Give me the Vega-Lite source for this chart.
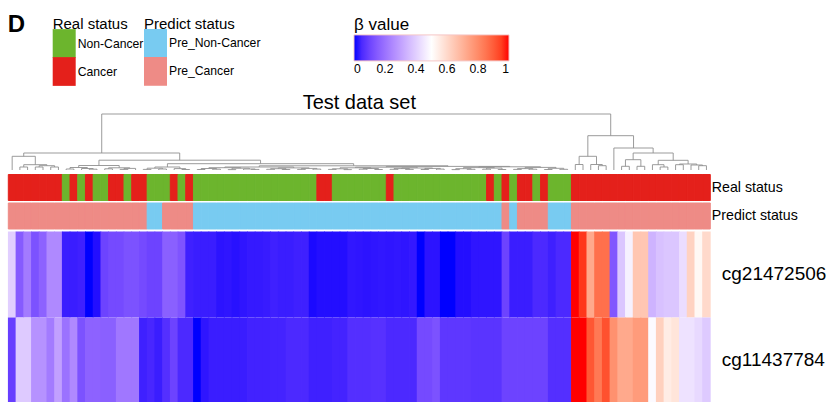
{
  "$schema": "https://vega.github.io/schema/vega-lite/v6.json",
  "padding": {"left": 7.3, "top": 12, "right": 0, "bottom": 0},
  "title": {"text": "D", "anchor": "start", "fontSize": 24, "fontWeight": "bold", "font": "Liberation Sans", "color": "#000", "offset": -20},
  "bounds": "flush",
  "spacing": 2.5,
  "config": {"view": {"stroke": null}, "font": "Liberation Sans", "axis": {"labelColor": "#000"}, "legend": {"labelColor": "#000", "titleColor": "#000"}},
  "resolve": {"scale": {"color": "independent", "stroke": "independent", "x": "independent", "y": "independent"}, "legend": {"color": "independent"}},
  "datasets": {
    "cols": [
      {"c":0,"r":"Cancer","p":"Pre_Cancer","cg21472506":0.40,"cg11437784":0.09},
      {"c":1,"r":"Cancer","p":"Pre_Cancer","cg21472506":0.15,"cg11437784":0.39},
      {"c":2,"r":"Cancer","p":"Pre_Cancer","cg21472506":0.22,"cg11437784":0.39},
      {"c":3,"r":"Cancer","p":"Pre_Cancer","cg21472506":0.13,"cg11437784":0.27},
      {"c":4,"r":"Cancer","p":"Pre_Cancer","cg21472506":0.165,"cg11437784":0.27},
      {"c":5,"r":"Cancer","p":"Pre_Cancer","cg21472506":0.25,"cg11437784":0.22},
      {"c":6,"r":"Cancer","p":"Pre_Cancer","cg21472506":0.25,"cg11437784":0.30},
      {"c":7,"r":"Non-Cancer","p":"Pre_Cancer","cg21472506":0.03,"cg11437784":0.20},
      {"c":8,"r":"Cancer","p":"Pre_Cancer","cg21472506":0.03,"cg11437784":0.25},
      {"c":9,"r":"Non-Cancer","p":"Pre_Cancer","cg21472506":0.035,"cg11437784":0.13},
      {"c":10,"r":"Cancer","p":"Pre_Cancer","cg21472506":0.0,"cg11437784":0.165},
      {"c":11,"r":"Non-Cancer","p":"Pre_Cancer","cg21472506":0.012,"cg11437784":0.165},
      {"c":12,"r":"Non-Cancer","p":"Pre_Cancer","cg21472506":0.10,"cg11437784":0.16},
      {"c":13,"r":"Cancer","p":"Pre_Cancer","cg21472506":0.115,"cg11437784":0.16},
      {"c":14,"r":"Cancer","p":"Pre_Cancer","cg21472506":0.115,"cg11437784":0.21},
      {"c":15,"r":"Non-Cancer","p":"Pre_Cancer","cg21472506":0.13,"cg11437784":0.21},
      {"c":16,"r":"Cancer","p":"Pre_Cancer","cg21472506":0.13,"cg11437784":0.21},
      {"c":17,"r":"Cancer","p":"Pre_Cancer","cg21472506":0.115,"cg11437784":0.035},
      {"c":18,"r":"Non-Cancer","p":"Pre_Non-Cancer","cg21472506":0.10,"cg11437784":0.045},
      {"c":19,"r":"Non-Cancer","p":"Pre_Non-Cancer","cg21472506":0.10,"cg11437784":0.03},
      {"c":20,"r":"Non-Cancer","p":"Pre_Cancer","cg21472506":0.16,"cg11437784":0.06},
      {"c":21,"r":"Cancer","p":"Pre_Cancer","cg21472506":0.16,"cg11437784":0.10},
      {"c":22,"r":"Non-Cancer","p":"Pre_Cancer","cg21472506":0.135,"cg11437784":0.05},
      {"c":23,"r":"Cancer","p":"Pre_Cancer","cg21472506":0.035,"cg11437784":0.05},
      {"c":24,"r":"Non-Cancer","p":"Pre_Non-Cancer","cg21472506":0.03,"cg11437784":0.0},
      {"c":25,"r":"Non-Cancer","p":"Pre_Non-Cancer","cg21472506":0.03,"cg11437784":0.02},
      {"c":26,"r":"Non-Cancer","p":"Pre_Non-Cancer","cg21472506":0.03,"cg11437784":0.03},
      {"c":27,"r":"Non-Cancer","p":"Pre_Non-Cancer","cg21472506":0.018,"cg11437784":0.03},
      {"c":28,"r":"Non-Cancer","p":"Pre_Non-Cancer","cg21472506":0.02,"cg11437784":0.03},
      {"c":29,"r":"Non-Cancer","p":"Pre_Non-Cancer","cg21472506":0.015,"cg11437784":0.03},
      {"c":30,"r":"Non-Cancer","p":"Pre_Non-Cancer","cg21472506":0.02,"cg11437784":0.03},
      {"c":31,"r":"Non-Cancer","p":"Pre_Non-Cancer","cg21472506":0.025,"cg11437784":0.038},
      {"c":32,"r":"Non-Cancer","p":"Pre_Non-Cancer","cg21472506":0.025,"cg11437784":0.038},
      {"c":33,"r":"Non-Cancer","p":"Pre_Non-Cancer","cg21472506":0.028,"cg11437784":0.038},
      {"c":34,"r":"Non-Cancer","p":"Pre_Non-Cancer","cg21472506":0.035,"cg11437784":0.04},
      {"c":35,"r":"Non-Cancer","p":"Pre_Non-Cancer","cg21472506":0.03,"cg11437784":0.04},
      {"c":36,"r":"Non-Cancer","p":"Pre_Non-Cancer","cg21472506":0.03,"cg11437784":0.05},
      {"c":37,"r":"Non-Cancer","p":"Pre_Non-Cancer","cg21472506":0.035,"cg11437784":0.05},
      {"c":38,"r":"Non-Cancer","p":"Pre_Non-Cancer","cg21472506":0.035,"cg11437784":0.05},
      {"c":39,"r":"Non-Cancer","p":"Pre_Non-Cancer","cg21472506":0.008,"cg11437784":0.035},
      {"c":40,"r":"Cancer","p":"Pre_Non-Cancer","cg21472506":0.012,"cg11437784":0.035},
      {"c":41,"r":"Cancer","p":"Pre_Non-Cancer","cg21472506":0.012,"cg11437784":0.035},
      {"c":42,"r":"Non-Cancer","p":"Pre_Non-Cancer","cg21472506":0.012,"cg11437784":0.04},
      {"c":43,"r":"Non-Cancer","p":"Pre_Non-Cancer","cg21472506":0.012,"cg11437784":0.04},
      {"c":44,"r":"Non-Cancer","p":"Pre_Non-Cancer","cg21472506":0.022,"cg11437784":0.06},
      {"c":45,"r":"Non-Cancer","p":"Pre_Non-Cancer","cg21472506":0.02,"cg11437784":0.06},
      {"c":46,"r":"Non-Cancer","p":"Pre_Non-Cancer","cg21472506":0.018,"cg11437784":0.06},
      {"c":47,"r":"Non-Cancer","p":"Pre_Non-Cancer","cg21472506":0.02,"cg11437784":0.065},
      {"c":48,"r":"Non-Cancer","p":"Pre_Non-Cancer","cg21472506":0.022,"cg11437784":0.065},
      {"c":49,"r":"Cancer","p":"Pre_Non-Cancer","cg21472506":0.02,"cg11437784":0.05},
      {"c":50,"r":"Non-Cancer","p":"Pre_Non-Cancer","cg21472506":0.022,"cg11437784":0.05},
      {"c":51,"r":"Non-Cancer","p":"Pre_Non-Cancer","cg21472506":0.02,"cg11437784":0.05},
      {"c":52,"r":"Non-Cancer","p":"Pre_Non-Cancer","cg21472506":0.024,"cg11437784":0.05},
      {"c":53,"r":"Non-Cancer","p":"Pre_Non-Cancer","cg21472506":0.0,"cg11437784":0.115},
      {"c":54,"r":"Non-Cancer","p":"Pre_Non-Cancer","cg21472506":0.018,"cg11437784":0.115},
      {"c":55,"r":"Non-Cancer","p":"Pre_Non-Cancer","cg21472506":0.018,"cg11437784":0.13},
      {"c":56,"r":"Non-Cancer","p":"Pre_Non-Cancer","cg21472506":0.0,"cg11437784":0.075},
      {"c":57,"r":"Non-Cancer","p":"Pre_Non-Cancer","cg21472506":0.0,"cg11437784":0.075},
      {"c":58,"r":"Non-Cancer","p":"Pre_Non-Cancer","cg21472506":0.012,"cg11437784":0.075},
      {"c":59,"r":"Non-Cancer","p":"Pre_Non-Cancer","cg21472506":0.012,"cg11437784":0.075},
      {"c":60,"r":"Non-Cancer","p":"Pre_Non-Cancer","cg21472506":0.02,"cg11437784":0.07},
      {"c":61,"r":"Non-Cancer","p":"Pre_Non-Cancer","cg21472506":0.02,"cg11437784":0.07},
      {"c":62,"r":"Cancer","p":"Pre_Non-Cancer","cg21472506":0.02,"cg11437784":0.07},
      {"c":63,"r":"Non-Cancer","p":"Pre_Non-Cancer","cg21472506":0.02,"cg11437784":0.07},
      {"c":64,"r":"Cancer","p":"Pre_Cancer","cg21472506":0.10,"cg11437784":0.10},
      {"c":65,"r":"Non-Cancer","p":"Pre_Non-Cancer","cg21472506":0.03,"cg11437784":0.10},
      {"c":66,"r":"Cancer","p":"Pre_Cancer","cg21472506":0.03,"cg11437784":0.10},
      {"c":67,"r":"Cancer","p":"Pre_Cancer","cg21472506":0.03,"cg11437784":0.10},
      {"c":68,"r":"Non-Cancer","p":"Pre_Cancer","cg21472506":0.05,"cg11437784":0.10},
      {"c":69,"r":"Cancer","p":"Pre_Cancer","cg21472506":0.05,"cg11437784":0.10},
      {"c":70,"r":"Non-Cancer","p":"Pre_Non-Cancer","cg21472506":0.035,"cg11437784":0.06},
      {"c":71,"r":"Non-Cancer","p":"Pre_Non-Cancer","cg21472506":0.05,"cg11437784":0.06},
      {"c":72,"r":"Non-Cancer","p":"Pre_Non-Cancer","cg21472506":0.05,"cg11437784":0.06},
      {"c":73,"r":"Cancer","p":"Pre_Cancer","cg21472506":1.0,"cg11437784":1.0},
      {"c":74,"r":"Cancer","p":"Pre_Cancer","cg21472506":0.96,"cg11437784":1.0},
      {"c":75,"r":"Cancer","p":"Pre_Cancer","cg21472506":0.725,"cg11437784":0.91},
      {"c":76,"r":"Cancer","p":"Pre_Cancer","cg21472506":0.86,"cg11437784":0.84},
      {"c":77,"r":"Cancer","p":"Pre_Cancer","cg21472506":0.86,"cg11437784":0.92},
      {"c":78,"r":"Cancer","p":"Pre_Cancer","cg21472506":0.14,"cg11437784":0.785},
      {"c":79,"r":"Cancer","p":"Pre_Cancer","cg21472506":0.38,"cg11437784":0.725},
      {"c":80,"r":"Cancer","p":"Pre_Cancer","cg21472506":0.47,"cg11437784":0.725},
      {"c":81,"r":"Cancer","p":"Pre_Cancer","cg21472506":0.65,"cg11437784":0.76},
      {"c":82,"r":"Cancer","p":"Pre_Cancer","cg21472506":0.65,"cg11437784":0.76},
      {"c":83,"r":"Cancer","p":"Pre_Cancer","cg21472506":0.34,"cg11437784":0.49},
      {"c":84,"r":"Cancer","p":"Pre_Cancer","cg21472506":0.37,"cg11437784":0.625},
      {"c":85,"r":"Cancer","p":"Pre_Cancer","cg21472506":0.38,"cg11437784":0.55},
      {"c":86,"r":"Cancer","p":"Pre_Cancer","cg21472506":0.38,"cg11437784":0.57},
      {"c":87,"r":"Cancer","p":"Pre_Cancer","cg21472506":0.43,"cg11437784":0.44},
      {"c":88,"r":"Cancer","p":"Pre_Cancer","cg21472506":0.62,"cg11437784":0.44},
      {"c":89,"r":"Cancer","p":"Pre_Cancer","cg21472506":0.52,"cg11437784":0.42},
      {"c":90,"r":"Cancer","p":"Pre_Cancer","cg21472506":0.6,"cg11437784":0.39}
    ],
    "tree": [
      {"xl":73.5,"xr":74.5,"h":7.5,"hl":2,"hr":2},
      {"xl":76.5,"xr":77.5,"h":6.3,"hl":2,"hr":2},
      {"xl":75.5,"xr":77.0,"h":7.5,"hl":2,"hr":6.3},
      {"xl":74.0,"xr":76.25,"h":15.7,"hl":7.5,"hr":7.5},
      {"xl":79.5,"xr":80.5,"h":5.7,"hl":2,"hr":2},
      {"xl":81.5,"xr":82.5,"h":5.7,"hl":2,"hr":2},
      {"xl":80.0,"xr":82.0,"h":12.3,"hl":5.7,"hr":5.7},
      {"xl":84.5,"xr":85.5,"h":5.0,"hl":2,"hr":2},
      {"xl":83.5,"xr":85.0,"h":7.3,"hl":2,"hr":5.0},
      {"xl":86.5,"xr":87.5,"h":7.3,"hl":2,"hr":2},
      {"xl":89.5,"xr":90.5,"h":6.3,"hl":2,"hr":2},
      {"xl":88.5,"xr":90.0,"h":7.0,"hl":2,"hr":6.3},
      {"xl":87.0,"xr":89.25,"h":8.0,"hl":7.3,"hr":7.0},
      {"xl":84.25,"xr":88.125,"h":11.7,"hl":7.3,"hr":8.0},
      {"xl":81.0,"xr":86.19,"h":19,"hl":12.3,"hr":11.7},
      {"xl":78.5,"xr":83.59,"h":24,"hl":2,"hr":19},
      {"xl":75.125,"xr":81.05,"h":36.3,"hl":15.7,"hr":24},
      {"xl":1.5,"xr":2.5,"h":5,"hl":2,"hr":2},
      {"xl":3.5,"xr":4.5,"h":5,"hl":2,"hr":2},
      {"xl":5.5,"xr":6.5,"h":5,"hl":2,"hr":2},
      {"xl":4.0,"xr":6.0,"h":6.3,"hl":5,"hr":5},
      {"xl":2.0,"xr":5.0,"h":7.3,"hl":5,"hr":6.3},
      {"xl":0.5,"xr":3.5,"h":15.7,"hl":2,"hr":7.3},
      {"xl":7.5,"xr":8.5,"h":3,"hl":2,"hr":2},
      {"xl":10.5,"xr":11.5,"h":2.8,"hl":2,"hr":2},
      {"xl":9.5,"xr":11.0,"h":3.5,"hl":2,"hr":2.8},
      {"xl":8.0,"xr":10.25,"h":4.5,"hl":3,"hr":3.5},
      {"xl":12.5,"xr":13.5,"h":3.2,"hl":2,"hr":2},
      {"xl":14.5,"xr":15.5,"h":2.6,"hl":2,"hr":2},
      {"xl":15.0,"xr":16.5,"h":3.6,"hl":2.6,"hr":2},
      {"xl":13.0,"xr":15.75,"h":4.2,"hl":3.2,"hr":3.6},
      {"xl":9.125,"xr":14.375,"h":6.5,"hl":4.5,"hr":4.2},
      {"xl":17.5,"xr":18.5,"h":2.6,"hl":2,"hr":2},
      {"xl":19.5,"xr":20.5,"h":3,"hl":2,"hr":2},
      {"xl":18.0,"xr":20.0,"h":3.8,"hl":2.6,"hr":3},
      {"xl":22.5,"xr":23.5,"h":2.5,"hl":2,"hr":2},
      {"xl":21.5,"xr":23.0,"h":3.4,"hl":2,"hr":2.5},
      {"xl":19.0,"xr":22.25,"h":5.0,"hl":3.8,"hr":3.4},
      {"xl":24.5,"xr":25.5,"h":2.5,"hl":2,"hr":2},
      {"xl":26.5,"xr":27.5,"h":2.8,"hl":2,"hr":2},
      {"xl":25.0,"xr":27.0,"h":3.5,"hl":2.5,"hr":2.8},
      {"xl":28.5,"xr":29.5,"h":2.4,"hl":2,"hr":2},
      {"xl":31.5,"xr":32.5,"h":2.6,"hl":2,"hr":2},
      {"xl":30.5,"xr":32.0,"h":3.0,"hl":2,"hr":2.6},
      {"xl":29.0,"xr":31.25,"h":3.8,"hl":2.4,"hr":3.0},
      {"xl":33.5,"xr":34.5,"h":2.7,"hl":2,"hr":2},
      {"xl":35.5,"xr":36.5,"h":2.5,"hl":2,"hr":2},
      {"xl":34.0,"xr":36.0,"h":3.3,"hl":2.7,"hr":2.5},
      {"xl":37.5,"xr":38.5,"h":2.6,"hl":2,"hr":2},
      {"xl":39.5,"xr":40.5,"h":2.9,"hl":2,"hr":2},
      {"xl":38.0,"xr":40.0,"h":3.6,"hl":2.6,"hr":2.9},
      {"xl":26.0,"xr":30.125,"h":4.3,"hl":3.5,"hr":3.8},
      {"xl":35.0,"xr":39.0,"h":4.1,"hl":3.3,"hr":3.6},
      {"xl":28.06,"xr":37.0,"h":5.0,"hl":4.3,"hr":4.1},
      {"xl":41.5,"xr":42.5,"h":2.6,"hl":2,"hr":2},
      {"xl":43.5,"xr":44.5,"h":2.4,"hl":2,"hr":2},
      {"xl":42.0,"xr":44.0,"h":3.2,"hl":2.6,"hr":2.4},
      {"xl":45.5,"xr":46.5,"h":2.8,"hl":2,"hr":2},
      {"xl":47.5,"xr":48.5,"h":2.5,"hl":2,"hr":2},
      {"xl":46.0,"xr":48.0,"h":3.5,"hl":2.8,"hr":2.5},
      {"xl":49.5,"xr":50.5,"h":2.7,"hl":2,"hr":2},
      {"xl":51.5,"xr":52.5,"h":2.6,"hl":2,"hr":2},
      {"xl":50.0,"xr":52.0,"h":3.4,"hl":2.7,"hr":2.6},
      {"xl":53.5,"xr":54.5,"h":2.5,"hl":2,"hr":2},
      {"xl":55.5,"xr":56.5,"h":2.9,"hl":2,"hr":2},
      {"xl":54.0,"xr":56.0,"h":3.6,"hl":2.5,"hr":2.9},
      {"xl":57.5,"xr":58.5,"h":2.4,"hl":2,"hr":2},
      {"xl":59.5,"xr":60.5,"h":2.7,"hl":2,"hr":2},
      {"xl":58.0,"xr":60.0,"h":3.3,"hl":2.4,"hr":2.7},
      {"xl":61.5,"xr":62.5,"h":2.8,"hl":2,"hr":2},
      {"xl":63.5,"xr":64.5,"h":2.5,"hl":2,"hr":2},
      {"xl":62.0,"xr":64.0,"h":3.9,"hl":2.8,"hr":2.5},
      {"xl":65.5,"xr":66.5,"h":2.6,"hl":2,"hr":2},
      {"xl":67.5,"xr":68.5,"h":2.8,"hl":2,"hr":2},
      {"xl":66.0,"xr":68.0,"h":3.4,"hl":2.6,"hr":2.8},
      {"xl":69.5,"xr":70.5,"h":2.5,"hl":2,"hr":2},
      {"xl":71.5,"xr":72.5,"h":2.7,"hl":2,"hr":2},
      {"xl":70.0,"xr":72.0,"h":3.7,"hl":2.5,"hr":2.7},
      {"xl":43.0,"xr":47.0,"h":4.2,"hl":3.2,"hr":3.5},
      {"xl":51.0,"xr":55.0,"h":4.0,"hl":3.4,"hr":3.6},
      {"xl":59.0,"xr":63.0,"h":4.4,"hl":3.3,"hr":3.9},
      {"xl":67.0,"xr":71.0,"h":4.6,"hl":3.4,"hr":3.7},
      {"xl":45.0,"xr":53.0,"h":4.8,"hl":4.2,"hr":4.0},
      {"xl":61.0,"xr":69.0,"h":5.2,"hl":4.4,"hr":4.6},
      {"xl":49.0,"xr":65.0,"h":5.6,"hl":4.8,"hr":5.2},
      {"xl":32.53,"xr":57.0,"h":6.2,"hl":5.0,"hr":5.6},
      {"xl":20.625,"xr":44.77,"h":8.3,"hl":5.0,"hr":6.2},
      {"xl":11.75,"xr":32.70,"h":11.8,"hl":6.5,"hr":8.3},
      {"xl":2.0,"xr":22.22,"h":19,"hl":15.7,"hr":11.8},
      {"xl":12.11,"xr":78.09,"h":58,"hl":19,"hr":36.3}
    ]
  },
  "vconcat": [
    {
      "data": {"name": "tree"},
      "width": 702,
      "height": 60,
      "title": {"text": "Test data set", "fontSize": 20, "fontWeight": "normal", "font": "Liberation Sans", "color": "#000", "offset": -1},
      "layer": [
        {"mark": {"type": "rule", "color": "#909090", "strokeWidth": 0.9},
         "encoding": {"x": {"field": "xl", "type": "quantitative", "scale": {"domain": [0, 91], "nice": false, "zero": false}, "axis": null},
                      "x2": {"field": "xr"},
                      "y": {"field": "h", "type": "quantitative", "scale": {"domain": [0, 60], "nice": false}, "axis": null}}},
        {"mark": {"type": "rule", "color": "#909090", "strokeWidth": 0.9},
         "encoding": {"x": {"field": "xl", "type": "quantitative"},
                      "y": {"field": "hl", "type": "quantitative"},
                      "y2": {"field": "h"}}},
        {"mark": {"type": "rule", "color": "#909090", "strokeWidth": 0.9},
         "encoding": {"x": {"field": "xr", "type": "quantitative"},
                      "y": {"field": "hr", "type": "quantitative"},
                      "y2": {"field": "h"}}}
      ]
    },
    {
      "data": {"name": "cols"},
      "width": 702,
      "height": 26,
      "mark": {"type": "rect", "strokeWidth": 1},
      "encoding": {
        "x": {"field": "c", "type": "ordinal", "axis": null, "scale": {"paddingInner": 0, "paddingOuter": 0}},
        "y": {"datum": "Real status", "type": "nominal", "scale": {"paddingInner": 0, "paddingOuter": 0},
              "axis": {"orient": "right", "title": null, "ticks": false, "domain": false, "labelFontSize": 14.2, "labelPadding": 1, "labelFont": "Liberation Sans"}},
        "color": {"field": "r", "type": "nominal",
                  "scale": {"domain": ["Non-Cancer", "Cancer"], "range": ["#6cb52d", "#e4201b"]},
                  "legend": {"title": "Real status", "orient": "none", "legendX": 44.4, "legendY": -157.5, "symbolType": "M-1,-1.25H1V1.25H-1Z", "symbolSize": 529, "rowPadding": -1, "labelFontSize": 12.2, "titleFontSize": 15, "labelFont": "Liberation Sans", "titleFont": "Liberation Sans", "titleFontWeight": "normal", "titlePadding": 0, "labelOffset": 2, "symbolStrokeWidth": 0, "symbolOpacity": 1}},
        "stroke": {"field": "r", "type": "nominal", "scale": {"domain": ["Non-Cancer", "Cancer"], "range": ["#6cb52d", "#e4201b"]}, "legend": null}
      }
    },
    {
      "data": {"name": "cols"},
      "width": 702,
      "height": 26,
      "mark": {"type": "rect", "strokeWidth": 1},
      "encoding": {
        "x": {"field": "c", "type": "ordinal", "axis": null, "scale": {"paddingInner": 0, "paddingOuter": 0}},
        "y": {"datum": "Predict status", "type": "nominal", "scale": {"paddingInner": 0, "paddingOuter": 0},
              "axis": {"orient": "right", "title": null, "ticks": false, "domain": false, "labelFontSize": 14.2, "labelPadding": 1, "labelFont": "Liberation Sans"}},
        "color": {"field": "p", "type": "nominal",
                  "scale": {"domain": ["Pre_Non-Cancer", "Pre_Cancer"], "range": ["#78cbf1", "#ee8b86"]},
                  "legend": {"title": "Predict status", "orient": "none", "legendX": 135.7, "legendY": -186.1, "symbolType": "M-1,-1.25H1V1.25H-1Z", "symbolSize": 529, "rowPadding": -1, "labelFontSize": 12.2, "titleFontSize": 15, "labelFont": "Liberation Sans", "titleFont": "Liberation Sans", "titleFontWeight": "normal", "titlePadding": 0, "labelOffset": 2, "symbolStrokeWidth": 0, "symbolOpacity": 1}},
        "stroke": {"field": "p", "type": "nominal", "scale": {"domain": ["Pre_Non-Cancer", "Pre_Cancer"], "range": ["#78cbf1", "#ee8b86"]}, "legend": null}
      }
    },
    {
      "data": {"name": "cols"},
      "transform": [{"fold": ["cg21472506", "cg11437784"], "as": ["probe", "beta"]}],
      "width": 702,
      "height": 172,
      "mark": {"type": "rect", "width": {"band": 1.1}},
      "encoding": {
        "x": {"field": "c", "type": "ordinal", "axis": null, "scale": {"paddingInner": 0, "paddingOuter": 0}},
        "y": {"field": "probe", "type": "nominal", "sort": ["cg21472506", "cg11437784"], "scale": {"paddingInner": 0, "paddingOuter": 0},
              "axis": {"orient": "right", "title": null, "ticks": false, "domain": false, "labelFontSize": 19, "labelPadding": 11, "labelFont": "Liberation Sans"}},
        "color": {"field": "beta", "type": "quantitative",
                  "scale": {"domain": [0, 0.5, 1], "range": ["#0000ff", "#ffffff", "#ff0000"], "interpolate": "lab"},
                  "legend": {"type": "gradient", "title": "β value", "orient": "none", "direction": "horizontal", "legendX": 345.7, "legendY": -214.6, "gradientLength": 155, "gradientThickness": 26, "values": [0, 0.2, 0.4, 0.6, 0.8, 1], "format": ".1~f", "labelFontSize": 12.2, "titleFontSize": 17, "labelFont": "Liberation Sans", "titleFont": "Liberation Sans", "titleFontWeight": "normal", "titlePadding": 1, "labelOffset": 2, "labelOverlap": false, "gradientStrokeColor": "#f5c6c6", "gradientStrokeWidth": 1}}
      }
    }
  ]
}
